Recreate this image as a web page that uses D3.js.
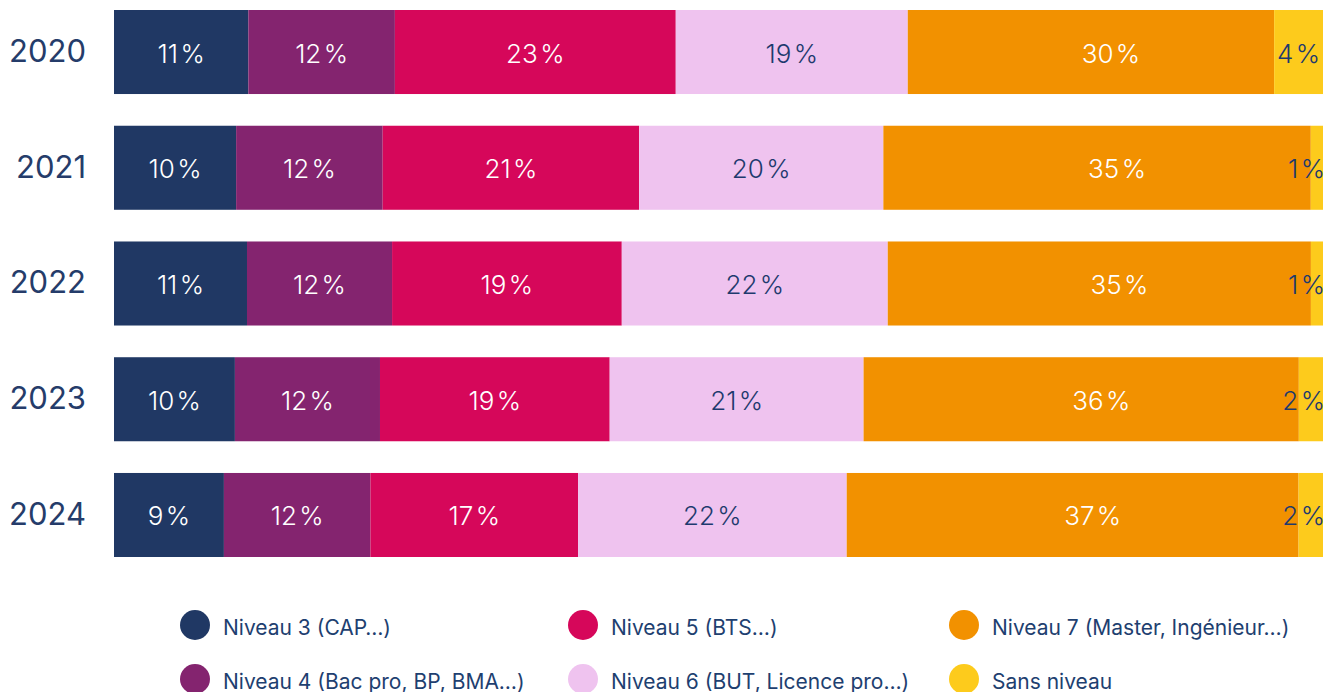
<!DOCTYPE html>
<html>
<head>
<meta charset="utf-8">
<script src="https://cdn.jsdelivr.net/npm/d3@7"></script>
<style>
  body { margin: 0; background: #fff; }
  svg { display: block; font-family: Inter, "Open Sans", sans-serif; }
</style>
</head>
<body>
<div id="chart"></div>
<script>
const years = ['2020', '2021', '2022', '2023', '2024'];
const categories = [
  'Niveau 3 (CAP…)',
  'Niveau 4 (Bac pro, BP, BMA…)',
  'Niveau 5 (BTS…)',
  'Niveau 6 (BUT, Licence pro…)',
  'Niveau 7 (Master, Ingénieur…)',
  'Sans niveau'
];
const niveau3 = [11, 10, 11, 10, 9];
const niveau4 = [12, 12, 12, 12, 12];
const niveau5 = [23, 21, 19, 19, 17];
const niveau6 = [19, 20, 22, 21, 22];
const niveau7 = [30, 35, 35, 36, 37];
const sansNiveau = [4, 1, 1, 2, 2];
const colors = ['#203864', '#84246f', '#d6075a', '#efc3ef', '#f29100', '#fdcb1c'];
const textColors = ['#fff', '#fff', '#fff', '#1e3a6e', '#fff', '#1e3a6e'];
// the orange labels sit a bit right of the segment centre in the original
const labelDx = [0, 0, 0, 0, 20, 0];

const width = 1328, height = 692;
const margin = {left: 114, right: 5, top: 10};
const series = [niveau3, niveau4, niveau5, niveau6, niveau7, sansNiveau];

// one row per year, keys are the category indexes
const rows = years.map((y, i) => {
  const r = {year: y};
  series.forEach((s, k) => { r[k] = s[i]; });
  return r;
});

const stack = d3.stack()
  .keys(d3.range(categories.length))
  .offset(d3.stackOffsetExpand);
const stacked = stack(rows);

const x = d3.scaleLinear().domain([0, 1]).range([margin.left, width - margin.right]);
const y = d3.scaleBand().domain(years).range([margin.top, 557]).paddingInner(0.274).paddingOuter(0);

const svg = d3.select('#chart').append('svg')
  .attr('width', width)
  .attr('height', height);

// year labels on the left
const yaxis = d3.axisLeft(y).tickSize(0).tickPadding(0);
svg.append('g')
  .attr('transform', `translate(86, 0)`)
  .call(yaxis)
  .call(g => g.select('.domain').remove())
  .selectAll('text')
  .attr('font-size', 31)
  .attr('font-family', 'Inter, sans-serif')
  .attr('fill', '#253c6a');

const layers = svg.selectAll('.layer')
  .data(stacked)
  .enter()
  .append('g')
  .attr('class', 'layer');

layers.selectAll('rect')
  .data(d => d.map(p => ({p, key: d.key})))
  .enter()
  .append('rect')
  .attr('x', d => x(d.p[0]))
  .attr('y', d => y(d.p.data.year))
  .attr('width', d => x(d.p[1]) - x(d.p[0]))
  .attr('height', y.bandwidth())
  .attr('fill', d => colors[d.key]);

// percentage labels, small segments pushed against the right edge
layers.selectAll('text')
  .data(d => d.map(p => ({p, key: d.key})))
  .enter()
  .append('text')
  .attr('text-anchor', 'middle')
  .attr('dominant-baseline', 'central')
  .attr('font-size', 26)
  .attr('font-weight', 300)
  .attr('fill', d => textColors[d.key])
  .attr('y', d => y(d.p.data.year) + y.bandwidth() / 2 + 1)
  .text(d => `${d.p.data[d.key]}\u200A%`)
  .each(function(d) {
    const w = this.getComputedTextLength();
    const cx = (x(d.p[0]) + x(d.p[1])) / 2 + labelDx[d.key];
    d3.select(this).attr('x', Math.min(cx, width - 3 - w / 2));
  });

// legend, 3 columns x 2 rows, filled column by column
const legendCols = [195, 583, 964];
const legendRows = [625, 679];
const legend = svg.selectAll('.legend')
  .data(categories)
  .enter()
  .append('g')
  .attr('class', 'legend')
  .attr('transform', (d, i) => `translate(${legendCols[Math.floor(i / 2)]}, ${legendRows[i % 2]})`);

legend.append('circle')
  .attr('r', 15)
  .attr('fill', (d, i) => colors[i]);

legend.append('text')
  .attr('x', 28)
  .attr('y', 2)
  .attr('dominant-baseline', 'central')
  .attr('font-size', 21)
  .attr('fill', '#1e4070')
  .text(d => d);
</script>
</body>
</html>
